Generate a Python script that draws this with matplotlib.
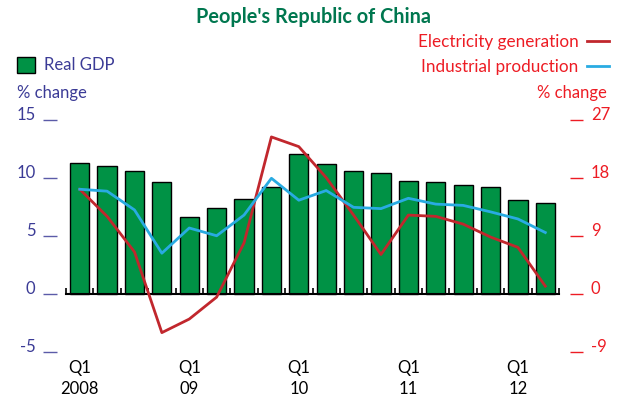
import matplotlib
matplotlib.use("Agg")
import matplotlib.pyplot as plt
import numpy as np

plt.rcParams['font.family'] = ['Lato', 'DejaVu Sans']

# ---- data ----
quarters = ["Q1\n2008", "Q2", "Q3", "Q4", "Q1\n09", "Q2", "Q3", "Q4",
            "Q1\n10", "Q2", "Q3", "Q4", "Q1\n11", "Q2", "Q3", "Q4",
            "Q1\n12", "Q2"]
real_gdp = [11.3, 11.0, 10.6, 9.6, 6.6, 7.4, 8.2, 9.2, 12.0, 11.2,
            10.6, 10.4, 9.7, 9.6, 9.4, 9.2, 8.1, 7.8]
electricity = [16.2, 12.0, 6.5, -6.0, -3.9, -0.5, 7.9, 24.3, 22.8, 18.0,
               12.2, 6.1, 12.2, 12.0, 10.8, 8.8, 7.2, 1.2]
industrial = [16.2, 15.9, 13.0, 6.3, 10.2, 9.0, 12.2, 17.9, 14.5, 16.0,
              13.4, 13.2, 14.8, 13.9, 13.7, 12.7, 11.6, 9.5]
left_ticks = [-5, 0, 5, 10, 15]
right_ticks = [-9, 0, 9, 18, 27]

# ---- colours ----
GREEN = '#009245'
TITLE_GREEN = '#00774f'
BLUE_TXT = '#3b3b96'
RED_TXT = '#ed1c24'
RED_LINE = '#c1272d'
BLUE_LINE = '#29abe2'

W, H = 620, 400
fig = plt.figure(figsize=(W / 100, H / 100), dpi=100)
ax = fig.add_axes([66 / W, 1 - 352 / H, (559 - 66) / W, (352 - 119.5) / H])

x = np.arange(len(real_gdp))
bars = ax.bar(x, real_gdp, width=0.70, color=GREEN, edgecolor='black',
              linewidth=1.0, zorder=2, label='Real GDP')
ax.set_xlim(-0.5, len(real_gdp) - 0.5)
ax.set_ylim(left_ticks[0], left_ticks[-1])

# spines
for s in ['top', 'right', 'left']:
    ax.spines[s].set_visible(False)
ax.spines['bottom'].set_position(('data', 0))
ax.spines['bottom'].set_linewidth(1.5)
ax.spines['bottom'].set_zorder(3)

# small boundary ticks on the zero line
ax.set_xticks(np.arange(-0.5, len(real_gdp), 1.0))
ax.set_xticklabels([])
ax.tick_params(axis='x', direction='in', length=4, width=1.2, color='black')

# left axis ticks
ax.spines['left'].set_position(('outward', 6.5))
ax.set_yticks(left_ticks)
ax.set_yticklabels([str(v) for v in left_ticks])
ax.tick_params(axis='y', direction='out', length=10, width=1.0,
               color='#5b5ba8', labelcolor=BLUE_TXT, labelsize=12, pad=5.5)
for lbl in ax.get_yticklabels():
    lbl.set_verticalalignment('baseline')

# quarter labels at the bottom
sec = ax.secondary_xaxis('bottom')
q1_idx = [i for i, q in enumerate(quarters) if q.startswith('Q1')]
sec.set_xticks(q1_idx)
sec.set_xticklabels([quarters[i] for i in q1_idx], fontsize=12,
                    linespacing=1.45)
sec.tick_params(axis='x', length=0, pad=5.5)
sec.spines['bottom'].set_visible(False)

# right axis
ax2 = ax.twinx()
ax2.set_ylim(right_ticks[0], right_ticks[-1])
for s in ['top', 'left', 'bottom']:
    ax2.spines[s].set_visible(False)
ax2.spines['right'].set_visible(False)
ax2.spines['right'].set_position(('outward', 8))
ax2.set_yticks(right_ticks)
ax2.set_yticklabels([str(v) for v in right_ticks])
ax2.tick_params(axis='y', direction='out', length=9.5, width=1.0,
                color=RED_TXT, labelcolor=RED_TXT, labelsize=12, pad=5.5)
for lbl in ax2.get_yticklabels():
    lbl.set_verticalalignment('baseline')

l_e, = ax2.plot(x, electricity, color=RED_LINE, lw=2.0, zorder=4,
                label='Electricity generation')
l_i, = ax2.plot(x, industrial, color=BLUE_LINE, lw=2.0, zorder=4,
                label='Industrial production')

# titles and units
fig.text(313 / W, 1 - 17 / H, "People's Republic of China", ha='center',
         va='center', fontsize=14.3, fontweight='bold', color=TITLE_GREEN)
fig.text(17 / W, 1 - 93 / H, '% change', ha='left', va='center',
         fontsize=12, color=BLUE_TXT)
fig.text(607 / W, 1 - 93 / H, '% change', ha='right', va='center',
         fontsize=12, color=RED_TXT)

# legends
leg1 = fig.legend(handles=[bars], labels=['Real GDP'], loc='center left',
                  bbox_to_anchor=(17 / W, 1 - 65 / H), frameon=False,
                  borderpad=0, borderaxespad=0, handlelength=1.1,
                  handleheight=1.1, handletextpad=0.5, fontsize=12,
                  labelcolor=BLUE_TXT)
leg2 = fig.legend(handles=[l_e, l_i], loc='upper right',
                  bbox_to_anchor=(609 / W, 1 - 34 / H), frameon=False,
                  borderpad=0, borderaxespad=0, handlelength=1.3,
                  handletextpad=0.5, labelspacing=0.55, fontsize=12.3,
                  labelcolor=RED_TXT, markerfirst=False, alignment='right')

fig.savefig('out.png', dpi=100)
